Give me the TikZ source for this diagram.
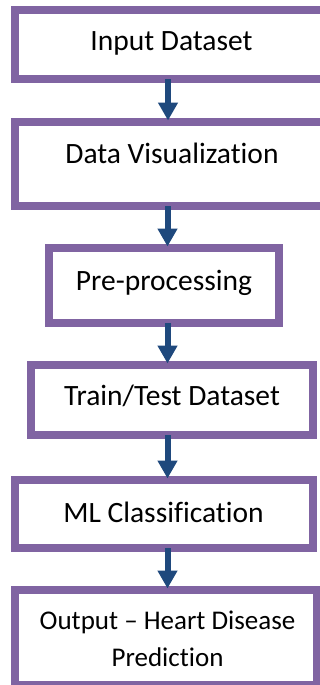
\documentclass[tikz,border=0pt]{standalone}
\usepackage{fontspec}
\setmainfont{Carlito}[Ligatures=NoCommon]
\usetikzlibrary{arrows.meta}
\definecolor{boxpurple}{HTML}{8064A2}
\definecolor{arrowblue}{HTML}{1F497D}
\begin{document}
\begin{tikzpicture}[x=1pt,y=-1pt,
  stepbox/.style={draw=boxpurple, line width=8pt, fill=white, rectangle, inner sep=0pt, outer sep=0pt},
  txt/.style={font=\fontsize{29.5}{37}\selectfont, inner sep=0pt, text=black},
  smalltxt/.style={font=\fontsize{27}{37}\selectfont, inner sep=0pt, text=black},
  flow/.style={draw=arrowblue, line width=6pt, -{Triangle[width=19pt,length=18pt]}, shorten >=1.5pt}]
\useasboundingbox (0,0) rectangle (320,685);
\clip (0,0) rectangle (320,685);
\fill[white] (0,0) rectangle (320,685);
% boxes (border centre lines)
\node[stepbox, minimum width=313pt, minimum height=69pt] (b1) at (171.5,44.5) {};
\node[stepbox, minimum width=313pt, minimum height=84pt] (b2) at (171.5,164) {};
\node[stepbox, minimum width=230pt, minimum height=75pt] (b3) at (164,285.5) {};
\node[stepbox, minimum width=282pt, minimum height=70pt] (b4) at (172,400) {};
\node[stepbox, minimum width=297.5pt, minimum height=68pt] (b5) at (163.75,514) {};
\node[stepbox, minimum width=302pt, minimum height=95pt] (b6) at (166,637.5) {};
% texts
\node[txt, anchor=base] (t1) at (171.5,51) {Input Dataset};
\node[txt, anchor=base] (t2) at (172,163) {Data Visualization};
\node[txt, anchor=base] (t3) at (164,290) {Pre-processing};
\node[txt, anchor=base] (t4) at (172,405) {Train/Test Dataset};
\node[txt, anchor=base] (t5) at (163.5,522) {ML Classification};
\node[smalltxt, align=center] (t6) at (167.5,639) {Output -- Heart Disease\\Prediction};
% arrows
\draw[flow] (168,0 |- b1.south) -- (168,0 |- b2.north);
\draw[flow] (167.5,0 |- b2.south) -- (167.5,0 |- b3.north);
\draw[flow] (167.5,0 |- b3.south) -- (167.5,0 |- b4.north);
\draw[flow] (167.5,0 |- b4.south) -- (167.5,0 |- b5.north);
\draw[flow] (167.5,0 |- b5.south) -- (167.5,0 |- b6.north);
\end{tikzpicture}
\end{document}
